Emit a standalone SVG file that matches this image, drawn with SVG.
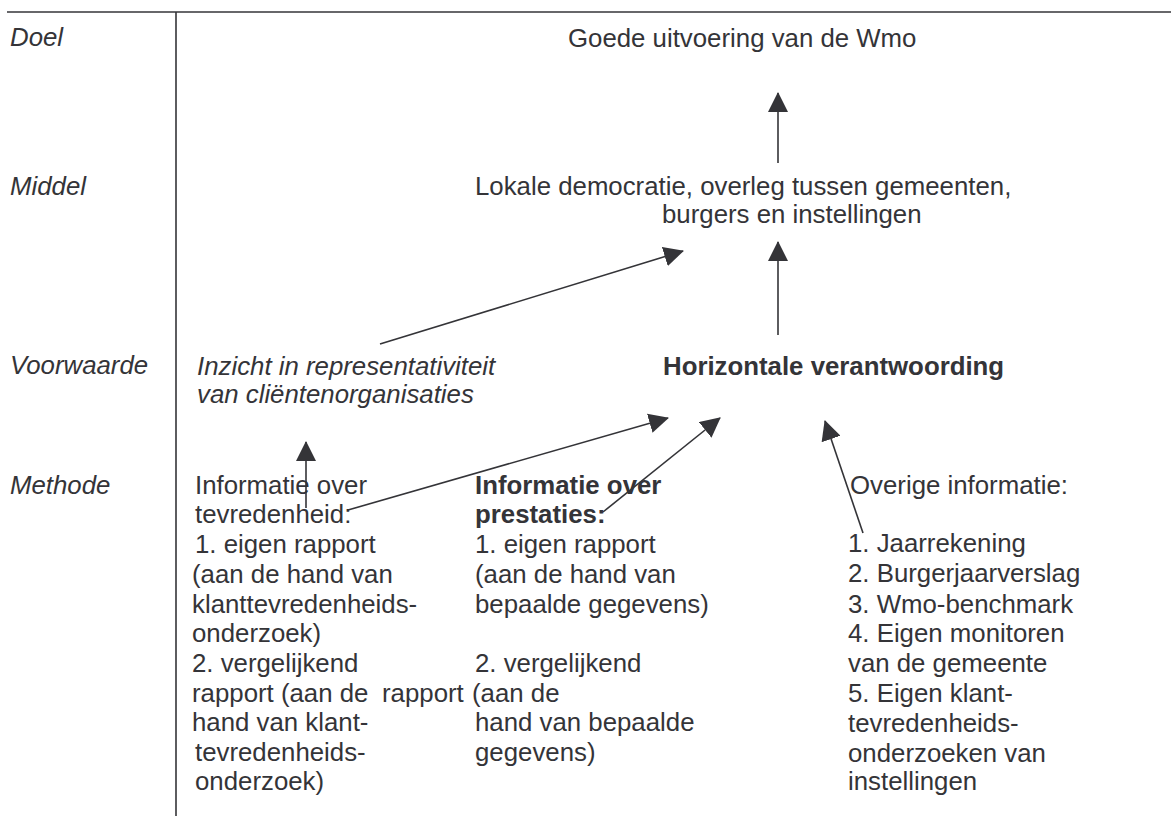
<svg xmlns="http://www.w3.org/2000/svg" width="1171" height="816" viewBox="0 0 1171 816">
<style>
text{font-family:"Liberation Sans",Arial,sans-serif;font-size:25.8px;fill:#343438}
.i{font-style:italic}
.b{font-weight:bold}
.ln{stroke:#343438;stroke-width:1.6;fill:none}
.ar{stroke:#343438;stroke-width:1.6;fill:none;marker-end:url(#ah)}
</style>
<defs>
<marker id="ah" markerUnits="userSpaceOnUse" markerWidth="20" markerHeight="20" refX="19" refY="10" orient="auto" viewBox="0 0 20 20">
<path d="M0,0 L20,10 L0,20 z" fill="#343438"/>
</marker>
</defs>
<g id="frame">
<line class="ln" x1="7" y1="12" x2="1171" y2="12"/>
<line class="ln" x1="176" y1="12" x2="176" y2="816"/>
</g>
<g id="row-labels">
<text class="i" x="10" y="46">Doel</text>
<text class="i" x="10" y="195">Middel</text>
<text class="i" x="10" y="374">Voorwaarde</text>
<text class="i" x="10" y="494">Methode</text>
</g>
<g id="doel"><text x="568" y="47">Goede uitvoering van de Wmo</text></g>
<g id="middel">
<text x="475" y="195">Lokale democratie, overleg tussen gemeenten,</text>
<text x="662" y="223">burgers en instellingen</text>
</g>
<g id="inzicht">
<text class="i" x="197" y="375">Inzicht in representativiteit</text>
<text class="i" x="197" y="403">van cliëntenorganisaties</text>
</g>
<g id="horizontale"><text class="b" x="663" y="375">Horizontale verantwoording</text></g>
<g id="tevredenheid">
<text x="195" y="494">Informatie over</text>
<text x="195" y="523">tevredenheid:</text>
<text x="195" y="553">1. eigen rapport</text>
<text x="192" y="583">(aan de hand van</text>
<text x="192" y="613">klanttevredenheids-</text>
<text x="192" y="642">onderzoek)</text>
<text x="192" y="672">2. vergelijkend</text>
<text x="192" y="702">rapport (aan de</text>
<text x="192" y="731">hand van klant-</text>
<text x="195" y="761">tevredenheids-</text>
<text x="195" y="790">onderzoek)</text>
</g>
<g id="prestaties">
<text class="b" x="475" y="494">Informatie over</text>
<text class="b" x="475" y="523">prestaties:</text>
<text x="475" y="553">1. eigen rapport</text>
<text x="475" y="583">(aan de hand van</text>
<text x="475" y="613">bepaalde gegevens)</text>
<text x="475" y="672">2. vergelijkend</text>
<text x="382" y="702">rapport</text>
<text x="472" y="702">(aan de</text>
<text x="475" y="731">hand van bepaalde</text>
<text x="475" y="761">gegevens)</text>
</g>
<g id="overige">
<text x="850" y="494">Overige informatie:</text>
<text x="848" y="552">1. Jaarrekening</text>
<text x="848" y="582">2. Burgerjaarverslag</text>
<text x="848" y="613">3. Wmo-benchmark</text>
<text x="848" y="642">4. Eigen monitoren</text>
<text x="848" y="672">van de gemeente</text>
<text x="848" y="702">5. Eigen klant-</text>
<text x="848" y="732">tevredenheids-</text>
<text x="848" y="762">onderzoeken van</text>
<text x="848" y="790">instellingen</text>
</g>
<g id="connectors">
<line class="ar" x1="778" y1="163" x2="778" y2="93"/>
<line class="ar" x1="778" y1="335" x2="778" y2="242"/>
<line class="ar" x1="380" y1="344" x2="683" y2="251"/>
<line class="ar" x1="306" y1="508" x2="306" y2="442"/>
<line class="ar" x1="348" y1="510" x2="668" y2="418"/>
<line class="ar" x1="603" y1="512" x2="720" y2="418"/>
<line class="ar" x1="863" y1="533" x2="825" y2="421"/>
</g>
</svg>
